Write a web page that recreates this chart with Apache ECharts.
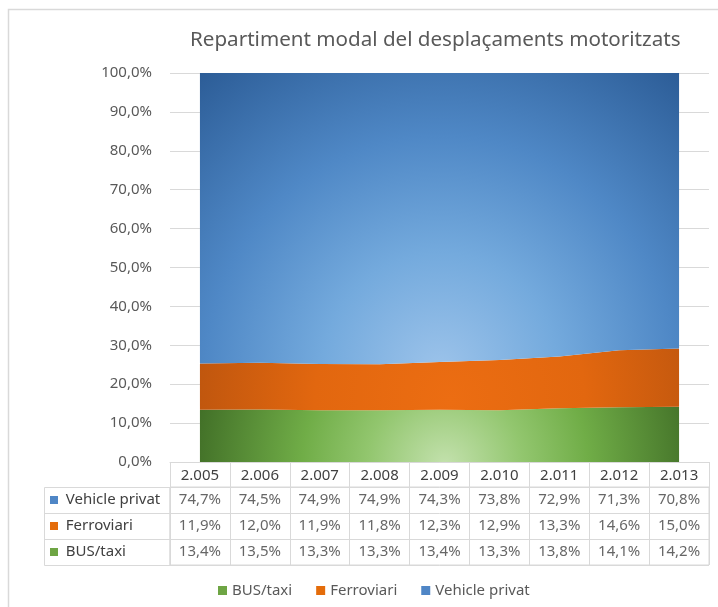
<!DOCTYPE html>
<html>
<head>
<meta charset="utf-8">
<script src="https://cdn.jsdelivr.net/npm/echarts@6/dist/echarts.min.js"></script>
<style>
  html, body { margin: 0; padding: 0; background: #fff; }
  #chart { width: 718px; height: 607px; }
</style>
</head>
<body>
<div id="chart"></div>
<script>
const years = ['2.005', '2.006', '2.007', '2.008', '2.009', '2.010', '2.011', '2.012', '2.013'];
const busTaxi = [13.4, 13.5, 13.3, 13.3, 13.4, 13.3, 13.8, 14.1, 14.2];
const ferroviari = [11.9, 12.0, 11.9, 11.8, 12.3, 12.9, 13.3, 14.6, 15.0];
const vehiclePrivat = [74.7, 74.5, 74.9, 74.9, 74.3, 73.8, 72.9, 71.3, 70.8];
const legendNames = ['BUS/taxi', 'Ferroviari', 'Vehicle privat'];
const tableRows = ['Vehicle privat', 'Ferroviari', 'BUS/taxi'];

const FONT = 'Noto Sans';
const fmt = v => v.toFixed(1).replace('.', ',') + '%';

const blueFill = {
  type: 'radial', x: 440, y: 370, r: 390, global: true,
  colorStops: [
    { offset: 0, color: '#9cc3ea' },
    { offset: 0.3, color: '#74aadd' },
    { offset: 0.6, color: '#4f88c6' },
    { offset: 1, color: '#2a5a94' }
  ]
};
const orangeFill = {
  type: 'radial', x: 450, y: 400, r: 270, global: true,
  colorStops: [
    { offset: 0, color: '#ec6d12' },
    { offset: 0.5, color: '#e2670f' },
    { offset: 1, color: '#bb540e' }
  ]
};
const greenFill = {
  type: 'radial', x: 445, y: 465, r: 260, global: true,
  colorStops: [
    { offset: 0, color: '#c3e1ad' },
    { offset: 0.3, color: '#92c66e' },
    { offset: 0.55, color: '#70ad47' },
    { offset: 1, color: '#3e6b25' }
  ]
};

const chart = echarts.init(document.getElementById('chart'));

function areaSeries(name, data, solid, fill) {
  return {
    name: name,
    type: 'line',
    stack: 'total',
    data: data,
    symbol: 'none',
    lineStyle: { width: 0 },
    itemStyle: { color: solid },
    areaStyle: { color: fill, opacity: 1 },
    emphasis: { disabled: true },
    silent: true
  };
}

function tableSeries(rowName, data) {
  return {
    name: 'tbl-' + rowName,
    type: 'scatter',
    xAxisIndex: 1,
    yAxisIndex: 1,
    symbolSize: 0,
    silent: true,
    data: data.map((v, i) => [years[i], rowName, v]),
    label: {
      show: true,
      position: 'inside',
      formatter: p => fmt(p.value[2]),
      fontFamily: FONT,
      fontSize: 15,
      color: '#404040'
    }
  };
}

chart.setOption({
  backgroundColor: '#fff',
  animation: false,
  textStyle: { fontFamily: FONT },
  title: {
    text: 'Repartiment modal del desplaçaments motoritzats',
    left: 185,
    top: 25,
    textStyle: { fontFamily: FONT, fontSize: 20.6, fontWeight: 'normal', color: '#595959' }
  },
  legend: {
    data: legendNames,
    left: 213,
    top: 578,
    icon: 'rect',
    itemWidth: 9,
    itemHeight: 9,
    itemGap: 24,
    textStyle: { fontFamily: FONT, fontSize: 15, color: '#595959' }
  },
  grid: [
    { left: 170, right: 9, top: 73, height: 389 },
    { left: 170, right: 9, top: 487, height: 78, show: true, borderColor: '#d9d9d9', borderWidth: 1 }
  ],
  xAxis: [
    {
      type: 'category',
      data: years,
      boundaryGap: true,
      axisLine: { show: true, lineStyle: { color: '#d9d9d9' } },
      axisTick: { show: true, length: 25, interval: 0, lineStyle: { color: '#d9d9d9' } },
      axisLabel: { margin: 6, fontFamily: FONT, fontSize: 15, color: '#404040', interval: 0 }
    },
    {
      type: 'category',
      gridIndex: 1,
      data: years,
      boundaryGap: true,
      axisLine: { show: false },
      axisTick: { show: false },
      axisLabel: { show: false },
      splitLine: { show: true, interval: 0, lineStyle: { color: '#d9d9d9' } }
    }
  ],
  yAxis: [
    {
      type: 'value',
      min: 0,
      max: 100,
      interval: 10,
      axisLine: { show: false },
      axisTick: { show: false },
      splitLine: { lineStyle: { color: '#d9d9d9' } },
      axisLabel: {
        formatter: v => fmt(v),
        margin: 18,
        fontFamily: FONT,
        fontSize: 15,
        color: '#595959'
      }
    },
    {
      type: 'category',
      gridIndex: 1,
      data: tableRows,
      inverse: true,
      axisLine: { show: false },
      axisTick: { show: false },
      splitLine: { show: true, interval: 0, lineStyle: { color: '#d9d9d9' } },
      axisLabel: {
        align: 'left',
        margin: 120,
        fontFamily: FONT,
        fontSize: 15,
        color: '#404040',
        formatter: v => {
          const key = v === 'Vehicle privat' ? 'b' : (v === 'Ferroviari' ? 'o' : 'g');
          return '{' + key + '|}  ' + v;
        },
        rich: {
          b: { width: 8, height: 8, backgroundColor: '#4f86c6' },
          o: { width: 8, height: 8, backgroundColor: '#e46c0a' },
          g: { width: 8, height: 8, backgroundColor: '#6ea544' }
        }
      }
    }
  ],
  series: [
    areaSeries('BUS/taxi', busTaxi, '#6ea544', greenFill),
    areaSeries('Ferroviari', ferroviari, '#e46c0a', orangeFill),
    areaSeries('Vehicle privat', vehiclePrivat, '#4f86c6', blueFill),
    tableSeries('Vehicle privat', vehiclePrivat),
    tableSeries('Ferroviari', ferroviari),
    tableSeries('BUS/taxi', busTaxi)
  ],
  graphic: [
    {
      type: 'rect',
      z: -10,
      shape: { x: 8.5, y: 9.5, width: 720, height: 610 },
      style: { fill: 'none', stroke: '#d9d9d9', lineWidth: 1.5 }
    },
    {
      type: 'rect',
      shape: { x: 44.5, y: 487.5, width: 125.5, height: 78 },
      style: { fill: 'none', stroke: '#d9d9d9', lineWidth: 1 }
    },
    {
      type: 'line',
      shape: { x1: 44.5, y1: 513.5, x2: 170, y2: 513.5 },
      style: { stroke: '#d9d9d9', lineWidth: 1 }
    },
    {
      type: 'line',
      shape: { x1: 44.5, y1: 539.5, x2: 170, y2: 539.5 },
      style: { stroke: '#d9d9d9', lineWidth: 1 }
    }
  ]
});
</script>
</body>
</html>
